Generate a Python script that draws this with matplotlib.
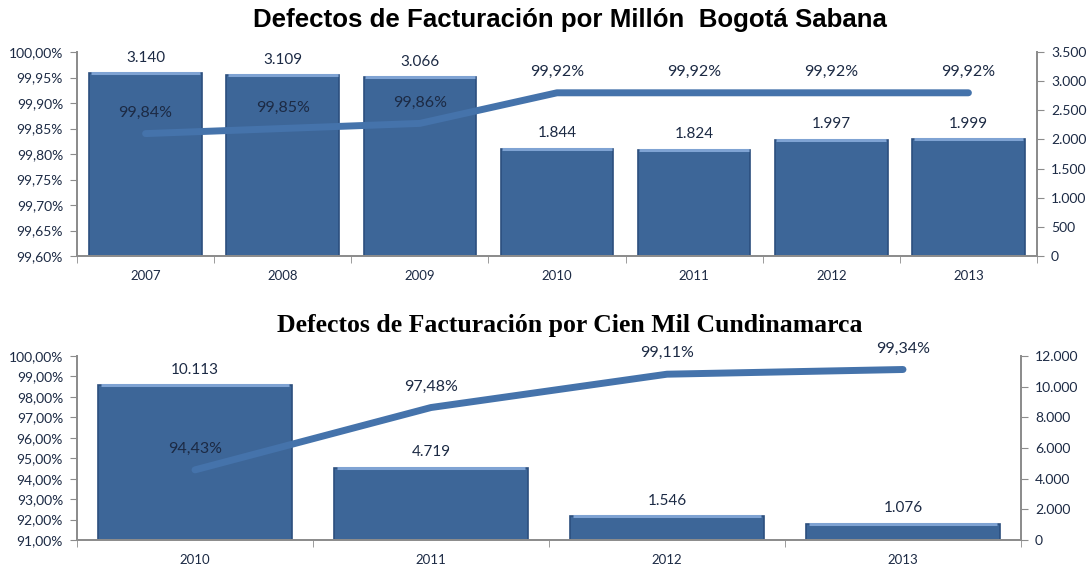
import matplotlib.pyplot as plt
from matplotlib.ticker import FuncFormatter, FixedLocator

plt.rcParams['font.family'] = ['Lato', 'DejaVu Sans']

# Bogotá Sabana
years_top = ['2007', '2008', '2009', '2010', '2011', '2012', '2013']
defects_top = [3140, 3109, 3066, 1844, 1824, 1997, 1999]
pct_top = [99.84, 99.85, 99.86, 99.92, 99.92, 99.92, 99.92]

# Cundinamarca
years_bot = ['2010', '2011', '2012', '2013']
defects_bot = [10113, 4719, 1546, 1076]
pct_bot = [94.43, 97.48, 99.11, 99.34]

bar_color = '#3d6698'
bar_edge = '#2c4f7e'
bar_top = '#7fa3d3'
line_color = '#4573ab'
text_color = '#1c2a44'
axis_color = '#8c8c8c'


def thousands(v, pos=None):
    return f"{int(v):,}".replace(',', '.')


def percent(v, pos=None):
    return f"{v:.2f}%".replace('.', ',')


def draw(ax, cats, bars, pcts, bar_max, bar_step, p_min, p_max, p_step, title, title_font, title_pad, title_x):
    x = list(range(len(cats)))
    ax.bar(x, bars, width=0.82, color=bar_color, edgecolor=bar_edge, linewidth=1.2, zorder=2)
    ax.hlines(bars, [i - 0.40 for i in x], [i + 0.40 for i in x], color=bar_top, linewidth=2.2, zorder=3)
    ax.set_xlim(-0.5, len(cats) - 0.5)
    ax.set_ylim(0, bar_max)
    ax.set_xticks(x)
    ax.set_xticklabels(cats)
    ax.set_xticks([i + 0.5 for i in range(-1, len(cats))], minor=True)
    ax.tick_params(axis='x', which='major', length=0, pad=10, labelsize=9.5, colors=text_color)
    ax.tick_params(axis='x', which='minor', length=5, color=axis_color, direction='out')
    for i, b in enumerate(bars):
        ax.annotate(thousands(b), (i, b), xytext=(0, 11), textcoords='offset points',
                    ha='center', va='center', fontsize=11, color=text_color)

    ax2 = ax.twinx()
    # twinx moves the host ticks to the left, so set the sides afterwards
    ax.yaxis.tick_right()
    ax.yaxis.set_major_locator(FixedLocator(list(range(0, bar_max + 1, bar_step))))
    ax.yaxis.set_major_formatter(FuncFormatter(thousands))
    ax.tick_params(axis='y', length=5, color=axis_color, labelsize=10, colors=text_color, pad=5)

    ax2.plot(x, pcts, color=line_color, linewidth=5, solid_capstyle='round', zorder=4)
    ax2.set_ylim(p_min, p_max)
    n = round((p_max - p_min) / p_step)
    ax2.yaxis.set_major_locator(FixedLocator([p_min + k * p_step for k in range(n + 1)]))
    ax2.yaxis.set_major_formatter(FuncFormatter(percent))
    ax2.yaxis.tick_left()
    ax2.tick_params(axis='y', length=5, color=axis_color, labelsize=10, colors=text_color, pad=5)
    for i, p in enumerate(pcts):
        ax2.annotate(percent(p), (i, p), xytext=(0, 15), textcoords='offset points',
                     ha='center', va='center', fontsize=11.5, color=text_color)

    for a in (ax, ax2):
        a.spines['top'].set_visible(False)
        for s in ('left', 'right', 'bottom'):
            a.spines[s].set_color(axis_color)
            a.spines[s].set_linewidth(1.3)

    ax.set_title(title, fontdict=title_font, pad=title_pad, x=title_x)


fig = plt.figure(figsize=(10.88, 5.68), dpi=100)
ax_top = fig.add_axes([77 / 1088, 1 - 256 / 568, 960 / 1088, 204 / 568])
ax_bot = fig.add_axes([77 / 1088, 1 - 540 / 568, 944 / 1088, 184 / 568])

draw(ax_top, years_top, defects_top, pct_top, 3500, 500, 99.60, 100.00, 0.05,
     'Defectos de Facturación por Millón  Bogotá Sabana',
     {'family': 'Liberation Sans', 'weight': 'bold', 'size': 18.6, 'color': 'black'}, 18, 0.513)
draw(ax_bot, years_bot, defects_bot, pct_bot, 12000, 2000, 91.0, 100.0, 1.0,
     'Defectos de Facturación por Cien Mil Cundinamarca',
     {'family': 'Liberation Serif', 'weight': 'bold', 'size': 18.5, 'color': 'black'}, 17, 0.522)

fig.savefig('out.png', dpi=100)
